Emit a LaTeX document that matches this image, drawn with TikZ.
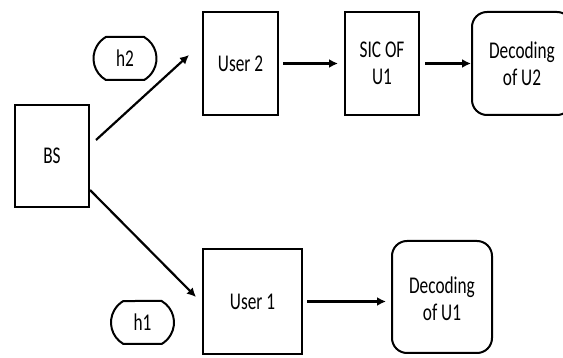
\documentclass[tikz,border=0pt]{standalone}
\usepackage{fontspec}
\setmainfont[FakeStretch=0.72]{Carlito}
\usepackage{tikz}
\usetikzlibrary{arrows.meta,positioning,shapes.misc,calc}

\begin{document}
\begin{tikzpicture}[
    x=1pt, y=-1pt,
    every node/.style={font=\fontsize{24}{27}\selectfont, align=center},
    userbox/.style={rectangle, draw=black, line width=2pt, inner sep=0pt},
    decbox/.style={rectangle, rounded corners=15pt, draw=black, line width=2pt, inner sep=0pt, minimum width=100pt},
    chanbox/.style={rounded rectangle, rounded rectangle arc length=120, draw=black, line width=2pt, inner sep=0pt, minimum width=63pt, minimum height=43pt},
    arr/.style={-{Latex[length=9pt,width=9pt]}, line width=2.6pt, draw=black}
]
\useasboundingbox (0,0) rectangle (563,358);
\clip (0,0) rectangle (563,358);

\node[userbox, minimum width=74pt, minimum height=102pt] (bs) at (52,156) {BS};
\node[userbox, minimum width=75pt, minimum height=103pt] (user2) at (240.5,63.5) {User 2};
\node[userbox, minimum width=74pt, minimum height=103pt, right=65pt of user2] (sic) {SIC OF\\U1};
\node[decbox, minimum height=103pt, right=51pt of sic] (dec2) {Decoding\\of U2};
\node[userbox, minimum width=99pt, minimum height=105pt] (user1) at (252.5,301.5) {User 1};
\node[decbox, minimum height=112pt, right=88pt of user1, yshift=4.5pt] (dec1) {\\[-6pt]Decoding\\of U1};

\node[chanbox] (h2) at (125,58.5) {h2};
\node[chanbox] (h1) at (142.5,322.5) {h1};

\draw[arr, line width=2.2pt] ($(bs.east)+(6,-16)$) -- ($(user2.west)+(-13,-8.5)$);
\draw[arr, line width=2.2pt] ($(bs.east)+(0,34)$) -- ($(user1.west)+(-6,-4.5)$);
\draw[arr, shorten <=4pt, shorten >=6pt] (user2) -- (sic);
\draw[arr, shorten <=5pt] (sic) -- (dec2);
\draw[arr, shorten <=4pt, shorten >=5pt] (user1.east) -- (user1.east -| dec1.west);

\end{tikzpicture}
\end{document}
